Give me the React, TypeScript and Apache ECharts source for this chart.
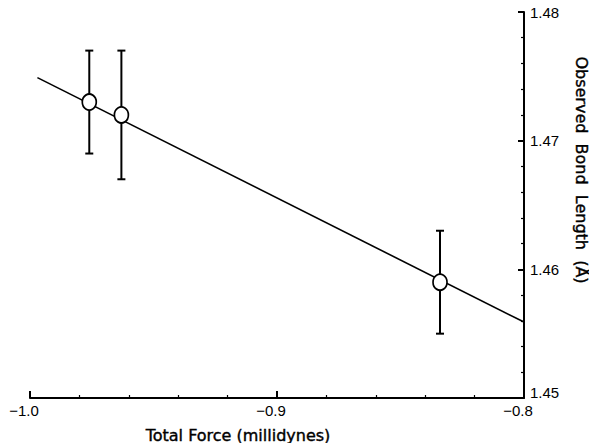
import React, { useEffect, useRef } from "react";
import * as echarts from "echarts";

const forceX = [-0.976, -0.963, -0.834];
const bondLength = [1.473, 1.472, 1.459];
const errLow = [1.469, 1.467, 1.455];
const errHigh = [1.477, 1.477, 1.463];
const fitX = [-0.997, -0.8];
const fitY = [1.4749, 1.4559];
const xTitle = "Total Force (millidynes)";
const yTitle = "Observed  Bond  Length  (Å)";

const NUMFONT = "Liberation Sans";
const TITLEFONT = "DejaVu Sans";

export default function App() {
  const ref = useRef<HTMLDivElement>(null);
  useEffect(() => {
    if (!ref.current) return;
    const chart = echarts.init(ref.current, undefined, { renderer: "svg" });
    const errData = forceX.map((x, i) => [x, errLow[i], errHigh[i]]);
    chart.setOption({
      animation: false,
      backgroundColor: "#fff",
      grid: { left: 30, right: 65, top: 12, bottom: 45 },
      xAxis: {
        type: "value",
        min: -1.0,
        max: -0.8,
        interval: 0.1,
        axisLine: { show: true, onZero: false, lineStyle: { color: "#000", width: 2 } },
        axisTick: { show: true, inside: true, length: 7, lineStyle: { color: "#000", width: 2 } },
        minorTick: { show: true, splitNumber: 5, length: 3, lineStyle: { color: "#000", width: 1.2 } },
        splitLine: { show: false },
        axisLabel: {
          color: "#000",
          fontFamily: NUMFONT,
          fontSize: 15,
          margin: 5,
          padding: [0, 12, 0, 0],
          formatter: (v: number) => "\u2212" + Math.abs(v).toFixed(1),
        },
      },
      yAxis: {
        type: "value",
        position: "right",
        min: 1.45,
        max: 1.48,
        interval: 0.01,
        axisLine: { show: true, onZero: false, lineStyle: { color: "#000", width: 2 } },
        axisTick: { show: true, inside: true, length: 6, lineStyle: { color: "#000", width: 2 } },
        minorTick: { show: true, splitNumber: 5, length: 3, lineStyle: { color: "#000", width: 1.2 } },
        splitLine: { show: false },
        axisLabel: {
          color: "#000",
          fontFamily: NUMFONT,
          fontSize: 15,
          margin: 6,
          formatter: (v: number) =>
            Math.abs(v - 1.45) < 1e-6 ? "{low|" + v.toFixed(2) + "}" : v.toFixed(2),
          rich: {
            low: {
              color: "#000",
              fontFamily: NUMFONT,
              fontSize: 15,
              padding: [0, 0, 11, 0],
            },
          },
        },
      },
      graphic: [
        {
          type: "text",
          x: 238,
          y: 435,
          style: {
            text: xTitle,
            fill: "#000",
            stroke: "#000",
            lineWidth: 0.4,
            font: `16px "${TITLEFONT}"`,
            align: "center",
            verticalAlign: "middle",
          },
        },
        {
          type: "text",
          x: 581,
          y: 170,
          rotation: -Math.PI / 2,
          style: {
            text: yTitle,
            fill: "#000",
            stroke: "#000",
            lineWidth: 0.4,
            font: `16px "${TITLEFONT}"`,
            align: "center",
            verticalAlign: "middle",
          },
        },
      ],
      series: [
        {
          type: "line",
          data: fitX.map((x, i) => [x, fitY[i]]),
          showSymbol: false,
          symbol: "none",
          lineStyle: { color: "#000", width: 1.6 },
          z: 1,
        },
        {
          type: "custom",
          data: errData,
          z: 2,
          renderItem: (params: any, api: any) => {
            const x = api.value(0);
            const lo = api.coord([x, api.value(1)]);
            const hi = api.coord([x, api.value(2)]);
            const cap = 4;
            const st = { stroke: "#000", lineWidth: 2 };
            return {
              type: "group",
              children: [
                { type: "line", shape: { x1: lo[0], y1: lo[1], x2: hi[0], y2: hi[1] }, style: st },
                { type: "line", shape: { x1: hi[0] - cap, y1: hi[1], x2: hi[0] + cap, y2: hi[1] }, style: st },
                { type: "line", shape: { x1: lo[0] - cap, y1: lo[1], x2: lo[0] + cap, y2: lo[1] }, style: st },
              ],
            };
          },
        },
        {
          type: "scatter",
          data: forceX.map((x, i) => [x, bondLength[i]]),
          symbol: "circle",
          symbolSize: [14, 16],
          itemStyle: { color: "#fff", borderColor: "#000", borderWidth: 1.8, opacity: 1 },
          z: 5,
        },
      ],
    });
    return () => chart.dispose();
  }, []);
  return (
    <div
      ref={ref}
      style={{ position: "fixed", left: 0, top: 0, width: 589, height: 443, background: "#fff" }}
    />
  );
}
